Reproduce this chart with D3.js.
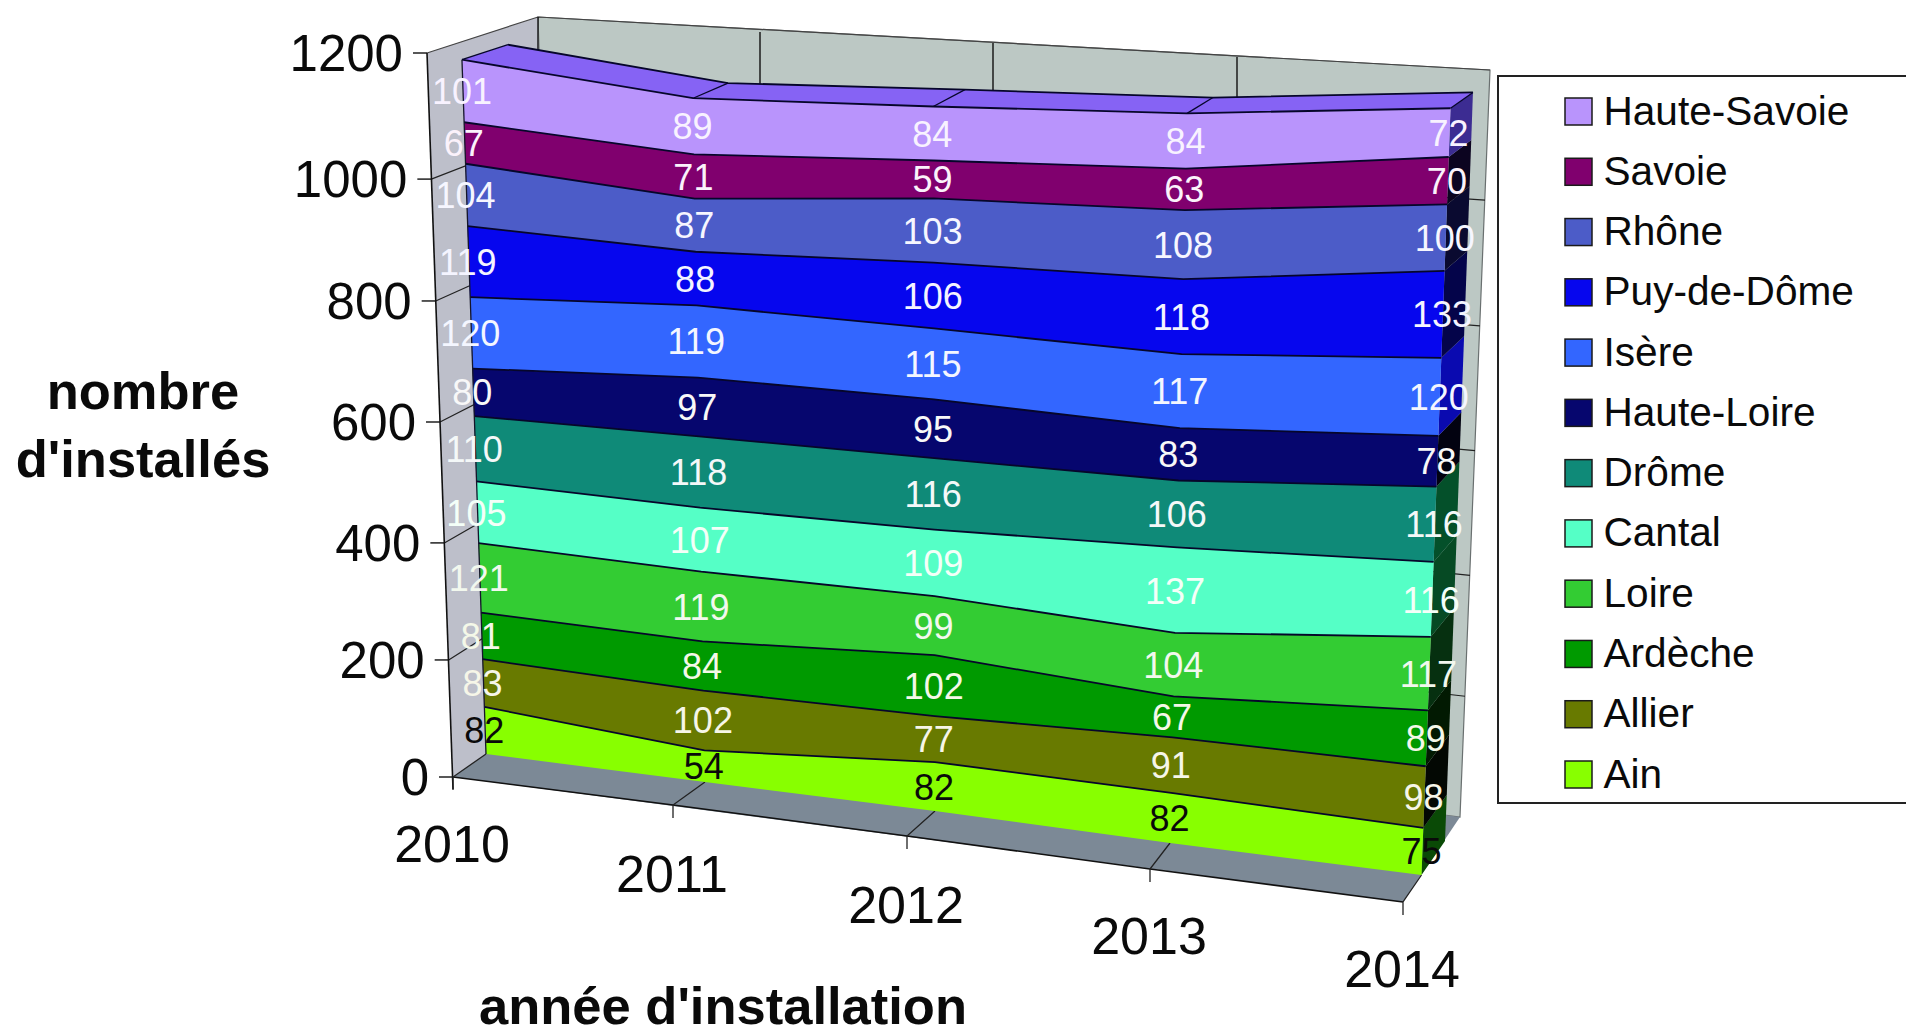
<!DOCTYPE html>
<html lang="fr">
<head>
<meta charset="utf-8">
<title>nombre d'installés</title>
<script src="https://cdn.jsdelivr.net/npm/d3@7"></script>
<style>
html,body{margin:0;padding:0;background:#fff;overflow:hidden}
svg{display:block}
text{font-family:"Liberation Sans",Arial,sans-serif}
</style>
</head>
<body>
<svg id="chart" width="1906" height="1030"></svg>
<script>
// ---- data ----
const years = [2010, 2011, 2012, 2013, 2014];
const yTicks = [0, 200, 400, 600, 800, 1000, 1200];
const ain        = [82, 54, 82, 82, 75];
const allier     = [83, 102, 77, 91, 98];
const ardeche    = [81, 84, 102, 67, 89];
const loire      = [121, 119, 99, 104, 117];
const cantal     = [105, 107, 109, 137, 116];
const drome      = [110, 118, 116, 106, 116];
const hauteLoire = [80, 97, 95, 83, 78];
const isere      = [120, 119, 115, 117, 120];
const puyDeDome  = [119, 88, 106, 118, 133];
const rhone      = [104, 87, 103, 108, 100];
const savoie     = [67, 71, 59, 63, 70];
const hauteSavoie= [101, 89, 84, 84, 72];

const seriesNames  = ["Ain","Allier","Ardèche","Loire","Cantal","Drôme","Haute-Loire","Isère","Puy-de-Dôme","Rhône","Savoie","Haute-Savoie"];
const seriesValues = [ain,allier,ardeche,loire,cantal,drome,hauteLoire,isere,puyDeDome,rhone,savoie,hauteSavoie];
const seriesColors = ["#88ff00","#687a00","#009a00","#33cc33","#55ffc6","#0f8a78","#06066e","#3366ff","#0606ee","#4c5cc8","#80006e","#b994fc"];
const labelColors  = ["#0a0a0a","#f6f6e8","#f4f8e8","#f2f8ee","#f4fff8","#f4f8f8","#f8f8f8","#f4f6ff","#f4f4ff","#f6f6ff","#fbf2fb","#f8f2ff"];
const sideColors   = ["#0a4a06","#030803","#021a02","#063010","#064a24","#04502a","#020210","#0a0ab0","#04044a","#0a0a30","#0c0420","#3c2c92"];
const topColor = "#8663f4";

// ---- projection: piecewise scales from year to the picture's 3D frame ----
const pw = r => d3.scaleLinear().domain(years).range(r);
// the vertical axis is not quite linear in the picture (its 3D perspective)
const warp = d3.scaleLinear().domain(yTicks).range([0,194,388,588.4,789,991,1200]);
const face = {
  front: {x: pw([486,705,935,1170,1421.5]), y: pw([754,782,811,843,875]),
          unit: pw([.5925,.604,.6155,.630,.648]), lean: pw([-.0205,-.0105,-.0015,.0147,.0245])},
  back:  {x: pw([530,738,968,1200,1445]), y: pw([722,751,781,811,841]),
          unit: pw([.578,.590,.604,.616,.6326]), lean: pw([-.0188,-.0088,-.0026,.0112,.0236])}
};
const project = (year, v, f) => [face[f].x(year) + face[f].lean(year)*v, face[f].y(year) - face[f].unit(year)*warp(v)];

// frame scales
const wallFrontX = d3.scaleLinear().domain([0,1200]).range([453,427]);
const frontLin   = d3.scaleLinear().domain([0,1200]).range([777,53]);
const wallFrontY = v => frontLin(warp(v));
const wallBackX  = d3.scaleLinear().domain([0,1200]).range([559,538]);
const backLin    = d3.scaleLinear().domain([0,1200]).range([703,17]);
const wallBackY  = v => backLin(warp(v));
const rightX     = d3.scaleLinear().domain([0,1200]).range([1460,1490]);
const rightLin   = d3.scaleLinear().domain([0,1200]).range([817,70]);
const rightY     = v => rightLin(warp(v));
const floorX     = pw([453,673,907,1150,1403]);
const floorY     = pw([777,805,836,869,902]);
const wallTopX   = pw([538,760,993,1237,1490]);
const wallTopY   = pw([17,32,43,57,70]);

// stacks
const stacked = d3.stack().keys(d3.range(seriesNames.length)).value((d,k)=>seriesValues[k][d])(d3.range(years.length));

const svg = d3.select("#chart");
const line = d3.line();
const poly = pts => line(pts) + "Z";

// walls and floor
const frameG = svg.append("g");
frameG.append("path").attr("fill","#bcc8c4").attr("stroke","#6a7070").attr("stroke-width",1.2)
  .attr("d",poly([[wallBackX(1200),wallBackY(1200)],[rightX(1200),rightY(1200)],[rightX(0),rightY(0)],[wallBackX(0),wallBackY(0)]]));
frameG.append("path").attr("fill","#bdbfca").attr("stroke","none")
  .attr("d",poly([[wallFrontX(1200),wallFrontY(1200)],[wallBackX(1200),wallBackY(1200)],[wallBackX(0),wallBackY(0)],[wallFrontX(0),wallFrontY(0)]]));
frameG.append("path").attr("fill","none").attr("stroke","#444").attr("stroke-width",1.2)
  .attr("d",line([[wallFrontX(1200),wallFrontY(1200)],[wallBackX(1200),wallBackY(1200)],[rightX(1200),rightY(1200)]]));
frameG.append("path").attr("fill","#7c8996").attr("stroke","none")
  .attr("d",poly([[floorX(2010),floorY(2010)],[wallBackX(0),wallBackY(0)],[rightX(0),rightY(0)],[floorX(2014),floorY(2014)]]));

// back-wall year lines
frameG.selectAll("line.yr").data(years.slice(0,4)).join("line").attr("class","yr")
  .attr("x1",d=>wallTopX(d)).attr("y1",d=>wallTopY(d)).attr("x2",d=>wallTopX(d)).attr("y2",100)
  .attr("stroke","#111").attr("stroke-width",1.4);

// grid on walls
frameG.selectAll("path.gridb").data(yTicks.slice(1,6)).join("path").attr("class","gridb")
  .attr("fill","none").attr("stroke","#222").attr("stroke-width",1.2)
  .attr("d",v=>line([[wallFrontX(v),wallFrontY(v)],[wallBackX(v),wallBackY(v)],[rightX(v),rightY(v)]]));
// y axis line and ticks
frameG.append("path").attr("fill","none").attr("stroke","#111").attr("stroke-width",1.6)
  .attr("d",line([[wallFrontX(1200),wallFrontY(1200)],[wallFrontX(0),wallFrontY(0)+12]]));
frameG.selectAll("line.yt").data(yTicks).join("line").attr("class","yt")
  .attr("x1",v=>wallFrontX(v)-14).attr("x2",v=>wallFrontX(v)).attr("y1",v=>wallFrontY(v)).attr("y2",v=>wallFrontY(v))
  .attr("stroke","#111").attr("stroke-width",1.4);
// floor front edge and year ticks
frameG.append("path").attr("fill","none").attr("stroke","#111").attr("stroke-width",1.6)
  .attr("d",line(years.map(y=>[floorX(y),floorY(y)])));
frameG.selectAll("path.xt").data(years).join("path").attr("class","xt")
  .attr("fill","none").attr("stroke","#222").attr("stroke-width",1.3)
  .attr("d",y=>line([[face.front.x(y),face.front.y(y)],[floorX(y),floorY(y)],[floorX(y),floorY(y)+13]]));

// area top surface
const topIdx = seriesNames.length-1;
const topBand = stacked[topIdx];
const area3d = svg.append("g");
const topOf = (i) => topBand[i][1];
area3d.append("path").attr("fill",topColor)
  .attr("d",poly([...years.map((y,i)=>project(y,topOf(i),"front")),...years.map((y,i)=>project(y,topOf(i),"back")).reverse()]));

// right side face (2014)
const lastY = years[years.length-1], lastI = years.length-1;
area3d.selectAll("path.side").data(stacked).join("path").attr("class","side")
  .attr("fill",(d,k)=>sideColors[k])
  .attr("d",d=>{const a=d[lastI][0],b=d[lastI][1];
    return poly([project(lastY,a,"front"),project(lastY,b,"front"),project(lastY,b,"back"),project(lastY,a,"back")]);});

// front bands
area3d.selectAll("path.band").data(stacked).join("path").attr("class","band")
  .attr("fill",(d,k)=>seriesColors[k])
  .attr("d",d=>poly([...years.map((y,i)=>project(y,d[i][1],"front")),...years.map((y,i)=>project(y,d[i][0],"front")).reverse()]));

// band boundary lines
area3d.selectAll("path.edge").data(stacked).join("path").attr("class","edge")
  .attr("fill","none").attr("stroke","#06062a").attr("stroke-width",1.8)
  .attr("d",d=>line(years.map((y,i)=>project(y,d[i][1],"front"))));
// left edge of the area
area3d.append("path").attr("fill","none").attr("stroke","#15152a").attr("stroke-width",1.3)
  .attr("d",line([project(years[0],0,"front"),project(years[0],topOf(0),"front")]));
// top surface outline and year separators
area3d.append("path").attr("fill","none").attr("stroke","#06062a").attr("stroke-width",1.8)
  .attr("d",line(years.map((y,i)=>project(y,topOf(i),"back"))));
area3d.selectAll("path.sep").data(years).join("path").attr("class","sep")
  .attr("fill","none").attr("stroke","#06062a").attr("stroke-width",1.3)
  .attr("d",(y,i)=>line([project(y,topOf(i),"front"),project(y,topOf(i),"back")]));

// data labels
const labels = svg.append("g").attr("font-size",36).attr("text-anchor","middle");
stacked.forEach((d,k)=>{
  labels.selectAll(null).data(d).join("text")
    .attr("x",(p,i)=>project(years[i],(p[0]+p[1])/2,"front")[0]-1)
    .attr("y",(p,i)=>project(years[i],(p[0]+p[1])/2,"front")[1]+13)
    .attr("fill",labelColors[k])
    .text((p,i)=>seriesValues[k][i]);
});

// axis labels
const tx = svg.append("g").attr("fill","#0a0a0a");
tx.selectAll("text.yl").data(yTicks).join("text").attr("class","yl")
  .attr("font-size",51).attr("text-anchor","end")
  .attr("x",v=>wallFrontX(v)-24).attr("y",v=>wallFrontY(v)+18).text(v=>v);
const xLabelX = pw([452,672,906,1149,1402]), xLabelY = pw([862,892,923,954,987]);
tx.selectAll("text.xl").data(years).join("text").attr("class","xl")
  .attr("font-size",52).attr("text-anchor","middle")
  .attr("x",y=>xLabelX(y)).attr("y",y=>xLabelY(y)).text(y=>y);
const titleStyle = s => s.attr("font-size",52.5).attr("font-weight","bold").attr("text-anchor","middle");
tx.append("text").call(titleStyle).attr("x",143).attr("y",409).text("nombre");
tx.append("text").call(titleStyle).attr("x",143).attr("y",477).text("d'installés");
tx.append("text").call(titleStyle).attr("x",723).attr("y",1024).text("année d'installation");

// legend
const legendG = svg.append("g");
legendG.append("rect").attr("x",1498).attr("y",76).attr("width",440).attr("height",727)
  .attr("fill","#fff").attr("stroke","#222").attr("stroke-width",2);
const legendOrder = d3.range(seriesNames.length).reverse();
const legendY = d3.scalePoint().domain(legendOrder).range([111.5,774.5]);
legendG.selectAll("rect.sw").data(legendOrder).join("rect").attr("class","sw")
  .attr("x",1565).attr("y",k=>legendY(k)-13.5).attr("width",27).attr("height",27)
  .attr("fill",k=>seriesColors[k]).attr("stroke","#1a1a1a").attr("stroke-width",1.5);
legendG.selectAll("text").data(legendOrder).join("text")
  .attr("x",1603.5).attr("y",k=>legendY(k)+13).attr("font-size",40.6).attr("fill","#0a0a0a")
  .text(k=>seriesNames[k]);
</script>
</body>
</html>
